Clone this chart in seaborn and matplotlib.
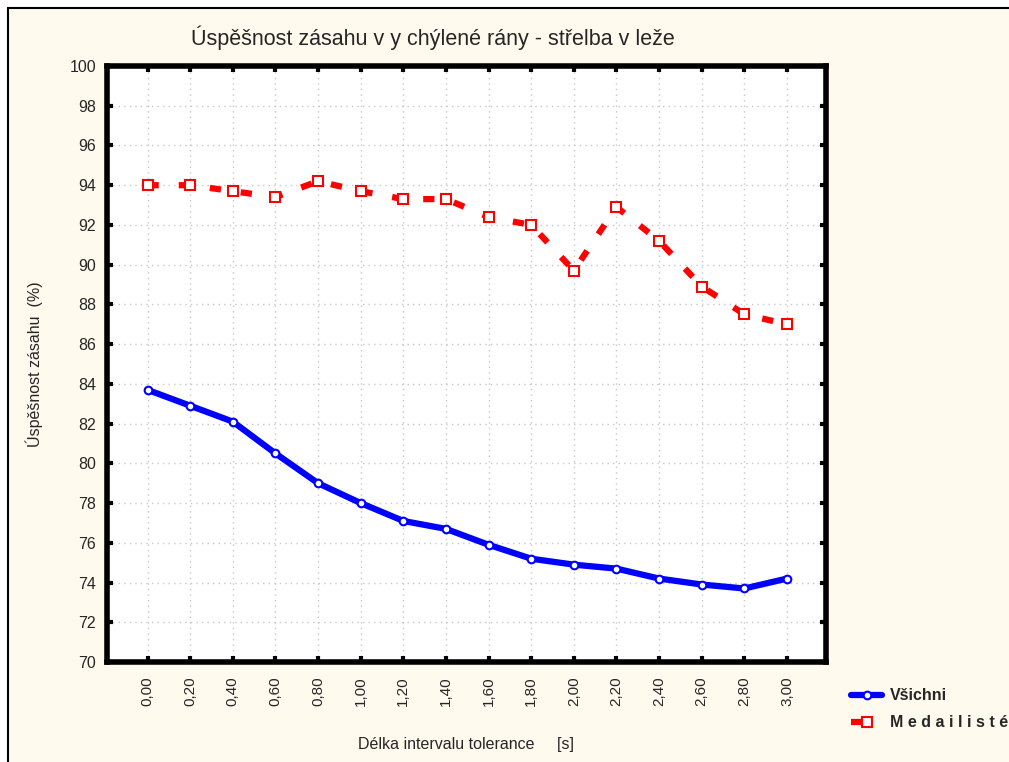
import matplotlib
matplotlib.use('Agg')
import matplotlib.pyplot as plt
import seaborn as sns
import pandas as pd
from matplotlib.patches import Rectangle

# data
interval = [0.0, 0.2, 0.4, 0.6, 0.8, 1.0, 1.2, 1.4, 1.6, 1.8, 2.0, 2.2, 2.4, 2.6, 2.8, 3.0]
vsichni = [83.7, 82.9, 82.1, 80.5, 79.0, 78.0, 77.1, 76.7, 75.9, 75.2, 74.9, 74.7, 74.2, 73.9, 73.7, 74.2]
medailiste = [94.0, 94.0, 93.7, 93.4, 94.2, 93.7, 93.3, 93.3, 92.4, 92.0, 89.7, 92.9, 91.2, 88.9, 87.5, 87.0]
x_labels = ['0,00', '0,20', '0,40', '0,60', '0,80', '1,00', '1,20', '1,40', '1,60', '1,80',
            '2,00', '2,20', '2,40', '2,60', '2,80', '3,00']
y_ticks = list(range(70, 101, 2))

df = pd.DataFrame({'interval': interval, 'Všichni': vsichni, 'Medailisté': medailiste})

sns.set_style('white')
plt.rcParams['font.family'] = ['Liberation Sans', 'DejaVu Sans']

fig = plt.figure(figsize=(10.09, 7.62), dpi=100, facecolor='white')
# cream panel with black frame (cut at right/bottom like the original)
fig.patches.append(Rectangle((8 / 1009, -0.05), 1.1, 1 - 8 / 762 + 0.05, transform=fig.transFigure,
                             facecolor='#FFFAEE', edgecolor='black', linewidth=1.5, zorder=-5))

ax = fig.add_axes([107 / 1009, 1 - 662 / 762, (826 - 107) / 1009, (662 - 66) / 762])
ax.set_facecolor('white')

sns.lineplot(data=df, x='interval', y='Všichni', ax=ax, color='#0000FF', linewidth=4.5,
             marker='o', markersize=5.5, markerfacecolor='white', markeredgecolor='#0000FF',
             markeredgewidth=1.5, label='Všichni', zorder=3)
sns.lineplot(data=df, x='interval', y='Medailisté', ax=ax, color='#FF0000', linewidth=4.5,
             marker='s', markersize=7, markerfacecolor='white', markeredgecolor='#FF0000',
             markeredgewidth=1.5, label='M e d a i l i s t é', zorder=3)
ax.lines[-1].set_dashes((1.8, 3.2))

ax.set_xlim(-0.19, 3.183)
ax.set_ylim(70, 100)
ax.set_xticks(interval)
ax.set_xticklabels(x_labels, rotation=90, fontsize=11)
ax.set_yticks(y_ticks)
ax.set_yticklabels([str(v) for v in y_ticks], fontsize=11.5)
ax.tick_params(axis='both', which='both', direction='in', length=4, width=3, color='black',
               top=True, right=True, bottom=True, left=True, pad=8)
ax.tick_params(axis='x', pad=10)
ax.grid(True, linestyle=(0, (1, 3)), color='#C8C8C8', linewidth=1)

for s in ax.spines.values():
    s.set_visible(True)
    s.set_color('black')
    s.set_linewidth(4)

ax.set_xlabel('Délka intervalu tolerance     [s]', fontsize=11.5, labelpad=23)
ax.set_ylabel('Úspěšnost zásahu  (%)', fontsize=11.5, labelpad=19)

fig.text(433 / 1009, 1 - 38 / 762, 'Úspěšnost zásahu v y chýlené rány - střelba v leže',
         ha='center', va='center', fontsize=15.5)

ax.legend_.remove()
handles, labels = ax.get_legend_handles_labels()
fig.legend(handles, labels, loc='upper left', bbox_to_anchor=(837 / 1009, 1 - 674 / 762),
           frameon=False, prop={'weight': 'bold', 'size': 11.5}, handlelength=1.9,
           handletextpad=0.5, labelspacing=0.75)

fig.savefig('out.png', dpi=100, facecolor=fig.get_facecolor())
